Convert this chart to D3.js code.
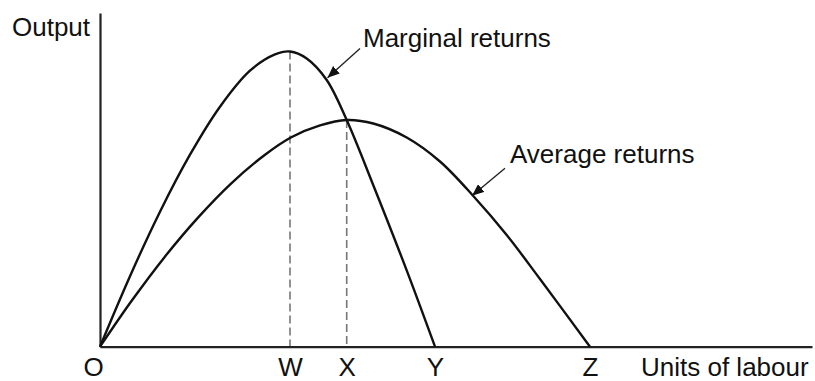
<!DOCTYPE html>
<html lang="en">
<head>
<meta charset="UTF-8">
<title>Marginal and average returns</title>
<style>
  body { margin: 0; background: #fff; }
  svg text { font-family: "Liberation Sans", Arial, sans-serif; font-size: 26px; fill: #111; }
</style>
</head>
<body>
<div id="chart"></div>
<script src="https://d3js.org/d3.v7.min.js"></script>
<script>
// values (labour units, output units)
const marginalX = [0, 3.0, 6.0, 9.0, 12.0, 15.0, 17.5, 19.0, 20.67, 22.67, 24.67, 27.33, 30.67, 33.5];
const marginalY = [0, 7.05, 13.5, 19.2, 24.0, 27.6, 29.23, 29.52, 28.82, 26.67, 22.67, 16.15, 7.63, 0];
const averageX = [0, 3.13, 6.47, 9.8, 13.13, 16.47, 19.13, 22.0, 24.67, 27.33, 30.67, 34.0, 37.33, 40.67, 44.0, 49.0];
const averageY = [0, 4.54, 8.98, 12.91, 16.34, 19.17, 20.94, 22.13, 22.67, 22.32, 20.92, 18.52, 15.07, 11.17, 6.77, 0];
const tickLabels = ["O", "W", "X", "Y", "Z"];
const tickValues = [0, 19.0, 24.67, 33.5, 49.0];

const width = 815, height = 381;
const svg = d3.select("#chart").append("svg")
    .attr("width", width)
    .attr("height", height);

const x = d3.scaleLinear().domain([0, 71.2]).range([100, 812]);
const y = d3.scaleLinear().domain([0, 33.37]).range([346.7, 13]);

// arrow head
svg.append("defs").append("marker")
    .attr("id", "head")
    .attr("viewBox", "0 0 12 10")
    .attr("refX", 12).attr("refY", 5)
    .attr("markerWidth", 12).attr("markerHeight", 10)
    .attr("markerUnits", "userSpaceOnUse")
    .attr("orient", "auto")
  .append("path")
    .attr("d", "M0,0 L12,5 L0,10 Z")
    .attr("fill", "#111");

// dashed guides at W and X
const guides = [[tickValues[1], d3.max(marginalY)], [tickValues[2], d3.max(averageY)]];
svg.selectAll(".guide").data(guides).join("line")
    .attr("class", "guide")
    .attr("x1", d => x(d[0])).attr("x2", d => x(d[0]))
    .attr("y1", d => y(d[1])).attr("y2", y(0))
    .attr("stroke", "#777")
    .attr("stroke-width", 1.6)
    .attr("stroke-dasharray", "8,4");

// axes
const xAxis = svg.append("g")
    .attr("transform", `translate(0,${y(0)})`)
    .call(d3.axisBottom(x).tickValues(tickValues)
        .tickFormat((d, i) => tickLabels[i])
        .tickSize(0).tickSizeOuter(0).tickPadding(11));
xAxis.select(".domain").attr("stroke", "#222").attr("stroke-width", 2.2);
xAxis.selectAll("text")
    .attr("font-size", 26).attr("font-family", null).attr("fill", "#111")
    .attr("dy", "0.71em")
    .attr("dx", (d, i) => i === 0 ? -7 : 0);

const yAxis = svg.append("g")
    .attr("transform", `translate(${x(0)},0)`)
    .call(d3.axisLeft(y).tickValues([]).tickSize(0).tickSizeOuter(0));
yAxis.select(".domain").attr("stroke", "#222").attr("stroke-width", 2.2);

// curves
const line = d3.line()
    .x(d => x(d[0])).y(d => y(d[1]))
    .curve(d3.curveCatmullRom.alpha(0.5));

svg.append("path")
    .datum(d3.zip(marginalX, marginalY))
    .attr("d", line)
    .attr("fill", "none").attr("stroke", "#111").attr("stroke-width", 2.4);

svg.append("path")
    .datum(d3.zip(averageX, averageY))
    .attr("d", line)
    .attr("fill", "none").attr("stroke", "#111").attr("stroke-width", 2.4);

// labels and pointers
svg.append("text").attr("x", 12).attr("y", 36).text("Output");
svg.append("text").attr("x", 641).attr("y", 376).text("Units of labour");
svg.append("text").attr("x", 363).attr("y", 47).text("Marginal returns");
svg.append("text").attr("x", 510).attr("y", 163).text("Average returns");

const pointers = [[26.0, 29.83, 22.75, 26.9], [40.5, 17.84, 37.2, 15.1]];
svg.selectAll(".pointer").data(pointers).join("line")
    .attr("class", "pointer")
    .attr("x1", d => x(d[0])).attr("y1", d => y(d[1]))
    .attr("x2", d => x(d[2])).attr("y2", d => y(d[3]))
    .attr("stroke", "#222").attr("stroke-width", 1.4)
    .attr("marker-end", "url(#head)");
</script>
</body>
</html>
